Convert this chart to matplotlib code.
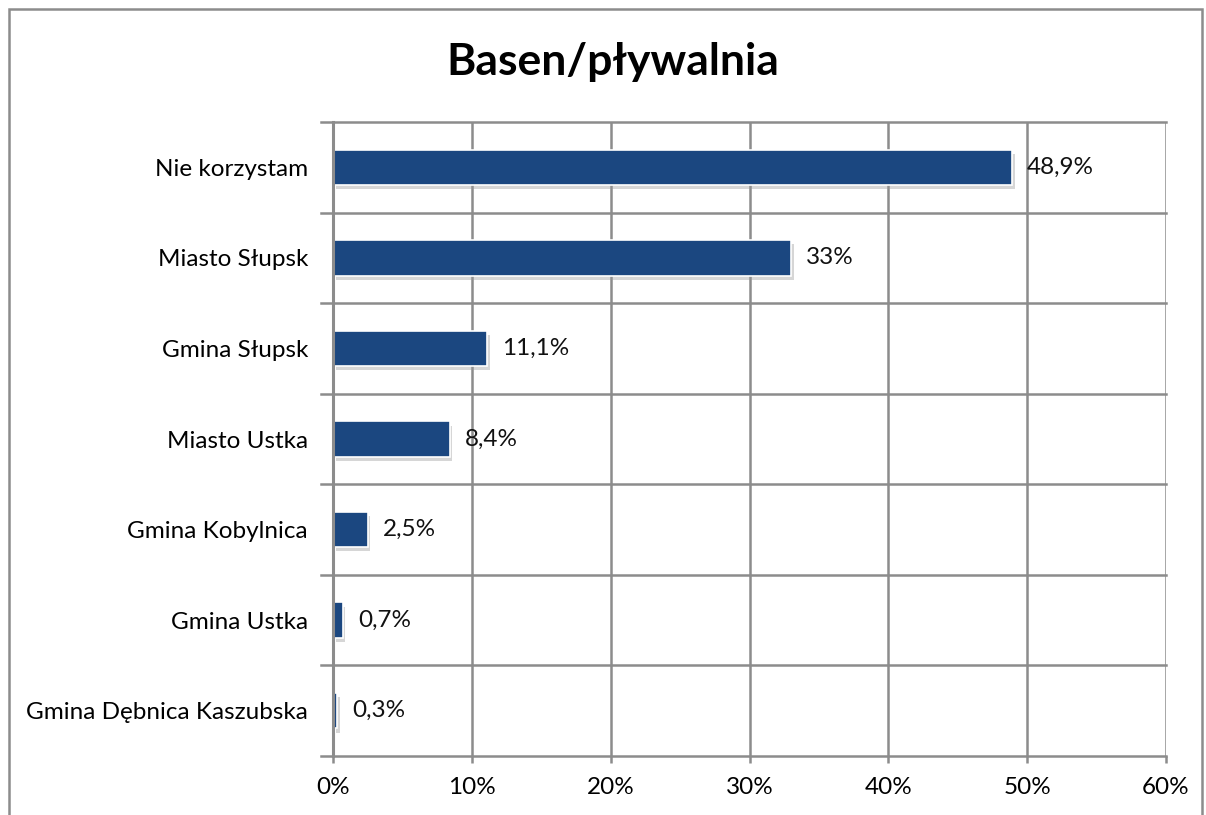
import matplotlib
matplotlib.use("Agg")
import matplotlib.pyplot as plt
import matplotlib.patheffects as pe
from matplotlib.patches import Rectangle
from matplotlib.ticker import FixedLocator

categories = [
    "Nie korzystam",
    "Miasto Słupsk",
    "Gmina Słupsk",
    "Miasto Ustka",
    "Gmina Kobylnica",
    "Gmina Ustka",
    "Gmina Dębnica Kaszubska",
]
values = [48.9, 33.0, 11.1, 8.4, 2.5, 0.7, 0.3]
value_labels = ["48,9%", "33%", "11,1%", "8,4%", "2,5%", "0,7%", "0,3%"]
x_ticks = [0, 10, 20, 30, 40, 50, 60]
x_tick_labels = ["0%", "10%", "20%", "30%", "40%", "50%", "60%"]
title = "Basen/pływalnia"

plt.rcParams["font.family"] = ["Lato", "DejaVu Sans"]

W, H = 1206, 815
fig = plt.figure(figsize=(W / 100, H / 100), dpi=100)

# outer chart frame
fig.patches.append(Rectangle((9 / W, -0.01), (1202 - 9) / W, (H - 9) / H + 0.01,
                             transform=fig.transFigure, fill=False,
                             edgecolor="#8c8c8c", linewidth=1.8))

left, right, top, bottom = 333, 1166, 122, 756
ax = fig.add_axes([left / W, 1 - bottom / H, (right - left) / W, (bottom - top) / H])

n = len(categories)
pos = list(range(n))
bar_color = "#1b4780"
grid_color = "#8c8c8c"

bars = ax.barh(pos, values, height=0.39, color=bar_color, edgecolor="white",
               linewidth=1.2, zorder=3)
for b in bars:
    b.set_path_effects([pe.SimplePatchShadow(offset=(2, -3), shadow_rgbFace="#9a9a9a", alpha=0.4),
                        pe.Normal()])

for p, v, lab in zip(pos, values, value_labels):
    ax.annotate(lab, (v, p), xytext=(11, 0), textcoords="offset points",
                va="center", ha="left", fontsize=17.5, color="#111111", zorder=4)

ax.set_xlim(0, 60)
ax.set_ylim(n - 0.5, -0.5)
ax.xaxis.set_major_locator(FixedLocator(x_ticks))
ax.set_xticklabels(x_tick_labels, fontsize=17.5)
ax.set_yticks(pos)
ax.set_yticklabels(categories, fontsize=17.5)
ax.tick_params(axis="y", length=0, pad=18)
ax.tick_params(axis="x", length=5, width=1.8, color=grid_color, pad=10)

# category boundaries
for k in range(n + 1):
    y = k - 0.5
    ax.plot([-0.9, 60], [y, y], color=grid_color, lw=1.8, clip_on=False, zorder=1)
for x in x_ticks:
    ax.axvline(x, color=grid_color, lw=1.8, zorder=1)

for s in ax.spines.values():
    s.set_visible(False)
ax.spines["left"].set_visible(True)
ax.spines["left"].set_color(grid_color)
ax.spines["left"].set_linewidth(2.2)
ax.spines["left"].set_zorder(5)

fig.text(613 / W, 1 - 62 / H, title, ha="center", va="center",
         fontsize=32, fontweight="bold", color="#000000")

fig.savefig("out.png", dpi=100)
